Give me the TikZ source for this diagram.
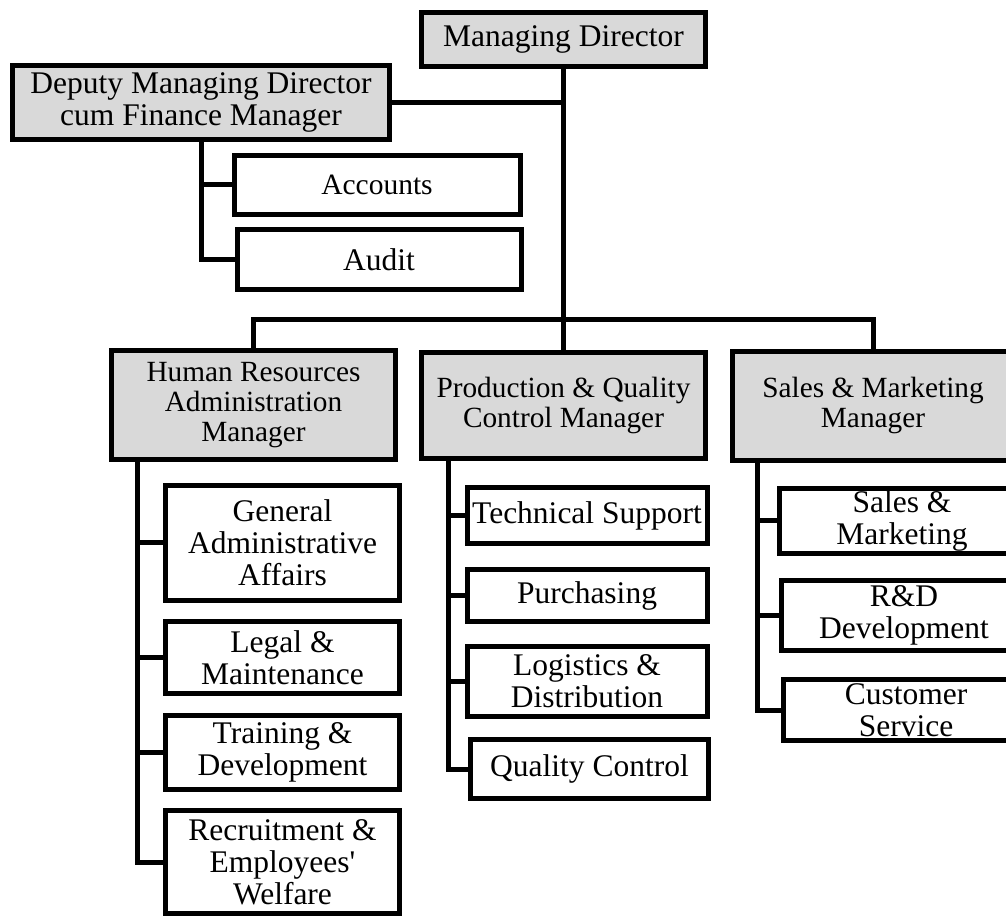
\documentclass[tikz,border=0pt]{standalone}
\usepackage{fontspec}
\setmainfont{Liberation Serif}
\usepackage{xcolor}
\usetikzlibrary{positioning}
\definecolor{boxgray}{RGB}{217,217,217}
\def\mgrFont{\fontsize{29.3}{30}\selectfont}
\def\unitFont{\fontsize{31.5}{32}\selectfont}
\tikzset{% org chart styles
  topbox/.style  = {draw, rectangle, line width=5pt, fill=boxgray, align=center,
    inner sep=0pt, font=\unitFont},
  mgrbox/.style  = {topbox, font=\mgrFont},
  unitbox/.style = {draw, rectangle, line width=5pt, fill=white, align=center,
    inner sep=0pt, font=\unitFont},
  conn/.style    = {line width=5pt},
}
\begin{document}
\begin{tikzpicture}[x=1pt, y=1pt]
      \useasboundingbox (0,0) rectangle (1006,916);
      \clip (0,0) rectangle (1006,916);

      % Top level
      \node[topbox, minimum width=284pt, minimum height=54pt] (MD) at (563.5,876.5) {Managing Director};
      \node[topbox, minimum width=377pt, minimum height=74pt] (DMD) at (201,813.5)
      {Deputy Managing Director\\cum Finance Manager};

      \node[unitbox, minimum width=286pt, minimum height=59pt, font=\fontsize{29.5}{30}\selectfont] (Acc) at (377,731) {Accounts};
      \node[unitbox, minimum width=284pt, minimum height=60pt, below = 10pt of Acc, xshift=2pt] (Aud) {Audit};

      % Managers
      \node[mgrbox, minimum width=284pt, minimum height=109pt] (HRM) at (253.5,510.5)
      {Human Resources\\Administration\\Manager};
      \node[mgrbox, minimum width=284pt, minimum height=106pt] (PQM) at (563.5,510.5)
      {Production \& Quality\\Control Manager};
      \node[mgrbox, minimum width=281pt, minimum height=109pt] (SMM) at (873,510)
      {Sales \& Marketing\\Manager};

      % HR units
      \node[unitbox, minimum width=234pt, minimum height=115pt] (GAA) at (282.5,373)
      {General\\Administrative\\Affairs};
      \node[unitbox, minimum width=234pt, minimum height=72pt, below = 16pt of GAA] (LM) {Legal \&\\Maintenance};
      \node[unitbox, minimum width=234pt, minimum height=74pt, below = 17pt of LM] (TD) {Training \&\\Development};
      \node[unitbox, minimum width=234pt, minimum height=103pt, below = 16pt of TD] (REW)
      {Recruitment \&\\Employees\textquotesingle\\Welfare};

      % Production units
      \node[unitbox, minimum width=240pt, minimum height=56pt] (TS) at (587,400.5) {Technical Support};
      \node[unitbox, minimum width=240pt, minimum height=52pt, below = 21pt of TS] (Pur) {Purchasing};
      \node[unitbox, minimum width=240pt, minimum height=70pt, below = 20pt of Pur] (LD) {Logistics \&\\Distribution};
      \node[unitbox, minimum width=238pt, minimum height=59pt, below = 18pt of LD, xshift=2.5pt] (QC) {Quality Control};

      % Sales units
      \node[unitbox, minimum width=245pt, minimum height=65pt] (SaM) at (902,395) {Sales \&\\Marketing};
      \node[unitbox, minimum width=245pt, minimum height=70pt, below = 22pt of SaM, xshift=2pt] (RD) {R\&D\\Development};
      \node[unitbox, minimum width=245pt, minimum height=61pt, below = 24pt of RD, xshift=2pt] (CS) {Customer\\Service};

      % Connectors
      \coordinate (bar) at (0,596);
      \draw[conn] (MD) -- (PQM);
      \draw[conn] (DMD.east) -- (DMD.east -| MD.south);
      \draw[conn] (HRM.north) -- (HRM.north |- bar) -- (SMM.north |- bar) -- (SMM.north);

      \draw[conn] (DMD.south) |- (Acc.west);
      \draw[conn] (DMD.south) |- (Aud.west);

      \coordinate (hrTrunk) at ([xshift=28.5pt]HRM.south west);
      \foreach \u in {GAA, LM, TD, REW}
        \draw[conn] (hrTrunk) |- (\u.west);

      \coordinate (pqTrunk) at ([xshift=29.5pt]PQM.south west);
      \foreach \u in {TS, Pur, LD, QC}
        \draw[conn] (pqTrunk) |- (\u.west);

      \coordinate (smTrunk) at ([xshift=27.5pt]SMM.south west);
      \foreach \u in {SaM, RD, CS}
        \draw[conn] (smTrunk) |- (\u.west);
\end{tikzpicture}
\end{document}
